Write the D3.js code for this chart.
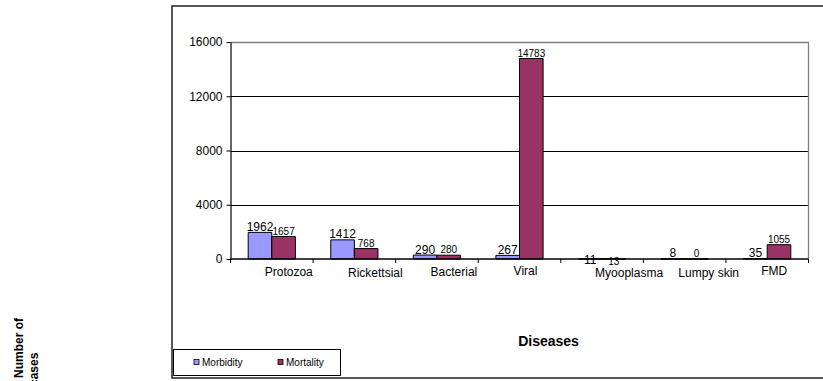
<!DOCTYPE html>
<html>
<head>
<meta charset="utf-8">
<script src="https://cdn.jsdelivr.net/npm/d3@7"></script>
<style>
  html, body { margin: 0; padding: 0; background: #fff; }
  svg { display: block; font-family: "Liberation Sans", Arial, sans-serif; }
</style>
</head>
<body>
<svg id="chart" width="823" height="381"></svg>
<script>
// Disease categories and the two reported series
const categories = ["Protozoa", "Rickettsial", "Bacterial", "Viral", "Myooplasma", "Lumpy skin", "FMD"];
const morbidity = [1962, 1412, 290, 267, 11, 8, 35];
const mortality = [1657, 768, 280, 14783, 13, 0, 1055];
const seriesNames = ["Morbidity", "Mortality"];
const yTicks = [0, 4000, 8000, 12000, 16000];

// Layout tweaks for text placement (pixels)
const catLabelDx = [17, 21, 17, 6, 27, 24, 7];
const catLabelDy = [0, 1, 0, -1, 1, 1, -1];
const morbLabelDy = [0, 0, 0, 0, 7, 0, 0];
const mortLabelDy = [0, 0, 0, 0, 8, 0, 0];

const colors = { Morbidity: "#9999FF", Mortality: "#993366" };

const svg = d3.select("#chart");

// Outer chart frame
svg.append("rect")
  .attr("x", 172).attr("y", 6)
  .attr("width", 700).attr("height", 372)
  .attr("fill", "none").attr("stroke", "#222").attr("stroke-width", 1.5);

const plot = { left: 230.5, right: 808.5, top: 42, bottom: 259 };

const x = d3.scaleBand().domain(categories).range([plot.left, plot.right]).paddingInner(0).paddingOuter(0);
const x1 = d3.scaleBand().domain(seriesNames).range([0, x.bandwidth()]).paddingInner(0).paddingOuter(0.75);
const y = d3.scaleLinear().domain([0, 16000]).range([plot.bottom, plot.top]);

// Horizontal gridlines
svg.append("g").selectAll("line")
  .data(yTicks.filter(t => t > 0 && t < 16000))
  .join("line")
  .attr("x1", plot.left).attr("x2", plot.right)
  .attr("y1", d => Math.round(y(d)) + 0.5).attr("y2", d => Math.round(y(d)) + 0.5)
  .attr("stroke", "#000").attr("stroke-width", 1);

// Plot area border (top and right)
svg.append("path")
  .attr("d", `M${plot.left},${plot.top + 0.5} H${plot.right} V${plot.bottom}`)
  .attr("fill", "none").attr("stroke", "#808080").attr("stroke-width", 1.3);

// Bars
const rows = categories.map((c, i) => ({ cat: c, i, values: [morbidity[i], mortality[i]] }));
const groups = svg.append("g").selectAll("g").data(rows).join("g")
  .attr("transform", d => `translate(${x(d.cat)},0)`);

groups.selectAll("path")
  .data(d => seriesNames.map((s, k) => ({ s, v: d.values[k] })))
  .join("path")
  .attr("d", d => {
    const x0 = x1(d.s), w = x1.bandwidth();
    return `M${x0},${y(d.v)} h${w} V${y(0)} H${x0} Z`;
  })
  .attr("fill", d => colors[d.s])
  .attr("stroke", "#000").attr("stroke-width", 1);

// Value labels
groups.append("text")
  .attr("x", x1("Morbidity") + x1.bandwidth() / 2)
  .attr("y", d => y(morbidity[d.i]) - 1.5 + morbLabelDy[d.i])
  .attr("text-anchor", "middle")
  .attr("font-size", 12).attr("fill", "#000")
  .text(d => morbidity[d.i]);

groups.append("text")
  .attr("x", x1("Mortality") + x1.bandwidth() / 2)
  .attr("y", d => y(mortality[d.i]) - 2 + mortLabelDy[d.i])
  .attr("text-anchor", "middle")
  .attr("font-size", 10).attr("fill", "#000")
  .text(d => mortality[d.i]);

// Y axis
const yAxis = svg.append("g").attr("transform", `translate(${plot.left},0)`)
  .call(d3.axisLeft(y).tickValues(yTicks).tickSize(4).tickSizeOuter(0).tickFormat(d3.format("d")));
yAxis.select(".domain").attr("stroke", "#000").attr("stroke-width", 1.2);
yAxis.selectAll(".tick line").attr("stroke", "#000");
yAxis.selectAll(".tick text").attr("font-size", 12).attr("font-family", "Liberation Sans, Arial, sans-serif")
  .attr("fill", "#000").attr("x", -8);

// X axis with ticks at category boundaries
svg.append("line")
  .attr("x1", plot.left).attr("x2", plot.right)
  .attr("y1", y(0)).attr("y2", y(0))
  .attr("stroke", "#000").attr("stroke-width", 1.5);
svg.append("g").selectAll("line")
  .data(d3.range(categories.length + 1))
  .join("line")
  .attr("x1", i => plot.left + i * x.bandwidth())
  .attr("x2", i => plot.left + i * x.bandwidth())
  .attr("y1", y(0)).attr("y2", y(0) + 4)
  .attr("stroke", "#000");

svg.append("g").selectAll("text")
  .data(categories)
  .join("text")
  .attr("x", (d, i) => x(d) + x.bandwidth() / 2 + catLabelDx[i])
  .attr("y", (d, i) => 276 + catLabelDy[i])
  .attr("text-anchor", "middle")
  .attr("font-size", 12).attr("fill", "#000")
  .text(d => d);

// Axis titles
svg.append("text")
  .attr("x", 548.5).attr("y", 346)
  .attr("text-anchor", "middle")
  .attr("font-size", 14).attr("font-weight", "bold").attr("fill", "#000")
  .text("Diseases");

svg.append("text")
  .attr("transform", "translate(22.5,348) rotate(-90)")
  .attr("text-anchor", "middle")
  .attr("font-size", 12).attr("font-weight", "bold").attr("fill", "#000")
  .text("Number of");
svg.append("text")
  .attr("transform", "translate(37.5,386) rotate(-90)")
  .attr("text-anchor", "start")
  .attr("font-size", 12).attr("font-weight", "bold").attr("fill", "#000")
  .text("cases");

// Legend
const legend = svg.append("g");
legend.append("rect")
  .attr("x", 173.5).attr("y", 349.5).attr("width", 167).attr("height", 26)
  .attr("fill", "#fff").attr("stroke", "#000").attr("stroke-width", 1);
const legendPos = [{ sx: 194, tx: 202 }, { sx: 278, tx: 286 }];
seriesNames.forEach((s, k) => {
  legend.append("rect")
    .attr("x", legendPos[k].sx).attr("y", 359.5).attr("width", 5).attr("height", 5)
    .attr("fill", colors[s]).attr("stroke", "#000").attr("stroke-width", 0.8);
  legend.append("text")
    .attr("x", legendPos[k].tx).attr("y", 366)
    .attr("font-size", 10).attr("fill", "#000")
    .text(s);
});
</script>
</body>
</html>
